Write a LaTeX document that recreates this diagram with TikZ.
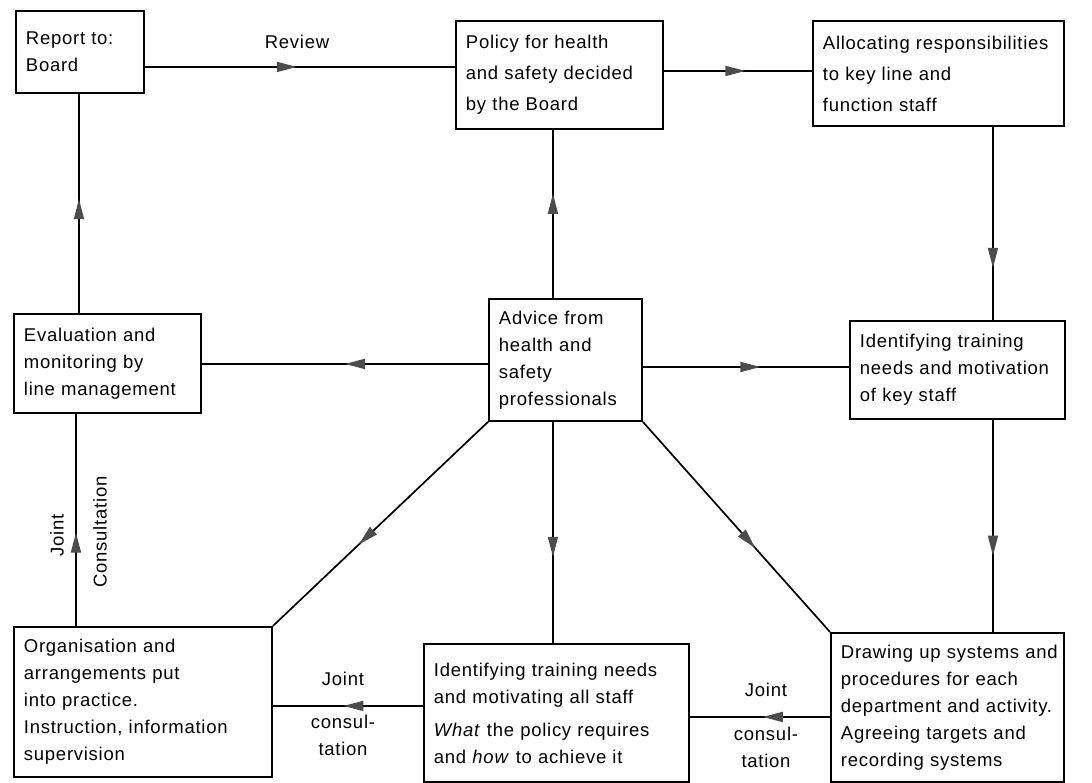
\documentclass[tikz,border=0pt]{standalone}
\usepackage{fontspec}
\setmainfont{Liberation Sans}[LetterSpace=4]
\usetikzlibrary{decorations.markings,arrows.meta}
\definecolor{arrowgray}{gray}{0.3}
\begin{document}
\begin{tikzpicture}[x=1pt,y=-1pt,
  every node/.style={font=\fontsize{18.5}{27}\selectfont},
  wide/.style={font=\fontsize{18.5}{31}\selectfont},
  box/.style={draw, line width=1.9pt, inner xsep=10pt, inner ysep=0pt,
    align=left, anchor=north west},
  conn/.style={line width=1.7pt, postaction={decorate},
    decoration={markings, mark=at position #1 with
      {\arrow[arrowgray]{Triangle[length=20pt,width=10pt]}}}},
  lab/.style={inner sep=0pt, align=center}
]
\useasboundingbox (0,0) rectangle (1092,783);
% boxes
\node[box, minimum height=82, text width=108] (rep) at (15,10)
  {\mbox{Report to:}\\\mbox{Board}};
\node[box, wide, minimum height=108, text width=187] (pol) at (455,20)
  {\mbox{Policy for health}\\\mbox{and safety decided}\\\mbox{by the Board}};
\node[box, wide, minimum height=105, text width=231] (alloc) at (812,20)
  {\mbox{Allocating responsibilities}\\\mbox{to key line and}\\\mbox{function staff}};
\node[box, minimum height=99, text width=167] (eval) at (13,313)
  {\mbox{Evaluation and}\\\mbox{monitoring by}\\\mbox{line management}};
\node[box, minimum height=122, text width=133] (adv) at (488,298)
  {\mbox{Advice from}\\\mbox{health and}\\\mbox{safety}\\\mbox{professionals}};
\node[box, minimum height=98, text width=195] (key) at (849,320)
  {\mbox{Identifying training}\\\mbox{needs and motivation}\\\mbox{of key staff}};
\node[box, minimum height=150, text width=238] (org) at (13,626)
  {\mbox{Organisation and}\\\mbox{arrangements put}\\\mbox{into practice.}\\\mbox{Instruction, information}\\\mbox{supervision}};
\node[box, minimum height=138, text width=245] (all) at (423,643)
  {\mbox{Identifying training needs}\\\mbox{and motivating all staff}\\[6pt]\mbox{\textit{What} the policy requires}\\\mbox{and \textit{how} to achieve it}};
\node[box, minimum height=149, text width=213] (drw) at (830,632)
  {\mbox{Drawing up systems and}\\\mbox{procedures for each}\\\mbox{department and activity.}\\\mbox{Agreeing targets and}\\\mbox{recording systems}};
% connectors
\draw[conn=0.49] ([yshift=-15]rep.east) -- ([yshift=-15]rep.east -| pol.west);
\draw[conn=0.55] ([yshift=4]pol.east) -- ([yshift=4]pol.east -| alloc.west);
\draw[conn=0.73] ([xshift=54.5]alloc.south) -- ([xshift=54.5]alloc.south |- key.north);
\draw[conn=0.64] ([xshift=35.5]key.south) -- ([xshift=35.5]key.south |- drw.north);
\draw[conn=0.52] ([xshift=-1]rep.south |- eval.north) -- ([xshift=-1]rep.south);
\draw[conn=0.44] ([xshift=-31.5]eval.south |- org.north) -- ([xshift=-31.5]eval.south);
\draw[conn=0.62] ([xshift=-12.5]adv.north) -- ([xshift=-12.5]adv.north |- pol.south);
\draw[conn=0.61] ([xshift=-12.5]adv.south) -- ([xshift=-12.5]adv.south |- all.north);
\draw[conn=0.50] ([yshift=-4]adv.west) -- ([yshift=-4]adv.west -| eval.east);
\draw[conn=0.57] ([yshift=-7]adv.east) -- ([yshift=-7]adv.east -| key.west);
\draw[conn=0.60] (adv.south west) -- (org.north east);
\draw[conn=0.60] (adv.south east) -- (drw.north west);
\draw[conn=0.48] ([yshift=-9.5]drw.west) -- ([yshift=-9.5]drw.west -| all.east);
\draw[conn=0.53] ([yshift=7]all.west) -- ([yshift=7]all.west -| org.east);
% labels
\node[lab] (review) at (297,42) {Review};
\node[lab, rotate=90] (j1) at (57,535) {Joint};
\node[lab, rotate=90] (c1) at (100,532) {Consultation};
\node[lab] (j2) at (343,679) {Joint};
\node[lab] (c2) at (343,735) {consul-\\tation};
\node[lab] (j3) at (766,690) {Joint};
\node[lab] (c3) at (766,747) {consul-\\tation};
\end{tikzpicture}
\end{document}
